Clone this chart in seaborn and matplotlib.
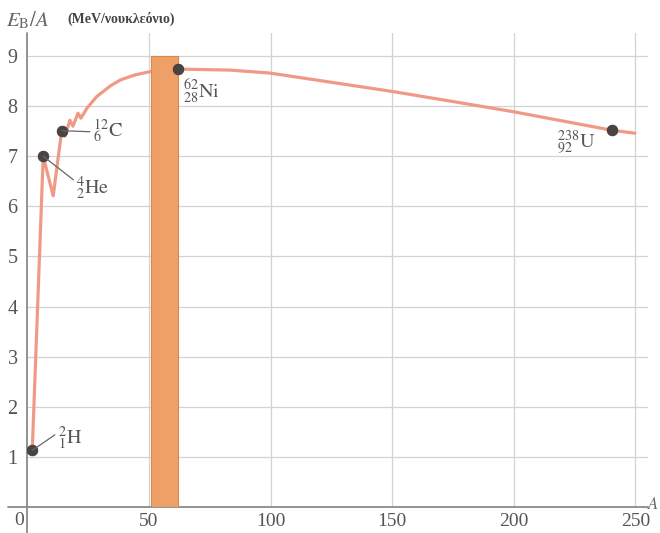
import matplotlib
matplotlib.use("Agg")
import matplotlib.pyplot as plt
import numpy as np
import pandas as pd
import seaborn as sns

# ---------------- data ----------------
mass_number = [2, 6.5, 10.6, 14.1, 15.5, 17.5, 18.75, 20.8, 22.0, 24.5, 28.5,
               34.0, 38.1, 44.0, 50.4, 62.0, 83.3, 99.8, 127.2, 150.5, 176.5,
               199.7, 240.3, 249.8]
binding_energy = [1.13, 7.0, 6.21, 7.51, 7.40, 7.72, 7.60, 7.86, 7.76, 7.96, 8.19,
                  8.40, 8.52, 8.62, 8.69, 8.74, 8.72, 8.66, 8.46, 8.29, 8.08,
                  7.89, 7.52, 7.46]

nuclide_labels = [r'${}^{2}_{1}\mathrm{H}$', r'${}^{4}_{2}\mathrm{He}$',
                  r'${}^{12}_{6}\mathrm{C}$', r'${}^{62}_{28}\mathrm{Ni}$',
                  r'${}^{238}_{92}\mathrm{U}$']
nuclide_A = [2, 6.5, 14.1, 62.0, 240.3]
nuclide_E = [1.13, 7.0, 7.51, 8.74, 7.52]

band_start = 51
band_width = 11
band_height = 9

x_ticks = [50, 100, 150, 200, 250]
y_ticks = [1, 2, 3, 4, 5, 6, 7, 8, 9]

# ---------------- style ----------------
sns.set_theme(style="white")
plt.rcParams['font.family'] = ['Liberation Serif', 'DejaVu Serif']
plt.rcParams['mathtext.fontset'] = 'stix'

W, H = 660, 533
fig = plt.figure(figsize=(W / 100, H / 100), dpi=100)
ax_left, ax_right, ax_bottom, ax_top = 27.4, 648, 507, 33
ax = fig.add_axes([ax_left / W, (H - ax_bottom) / H,
                   (ax_right - ax_left) / W, (ax_bottom - ax_top) / H])
ax.set_xlim(0, 255.2)
ax.set_ylim(0, 9.46)
for s in ax.spines.values():
    s.set_visible(False)

grey_txt = '#555555'
grid_c = '#d2d2d2'

ax.set_xticks(x_ticks)
ax.set_xticklabels([str(t) for t in x_ticks])
ax.set_yticks(y_ticks)
ax.set_yticklabels([str(t) for t in y_ticks])
ax.tick_params(axis='x', length=0, pad=4.5, labelsize=14, labelcolor=grey_txt)
ax.tick_params(axis='y', length=0, pad=7, labelsize=14.5, labelcolor=grey_txt)
ax.grid(True, color=grid_c, linewidth=0.9)
ax.set_axisbelow(True)

# axes lines
ax.plot([0, 0], [-0.53, 9.46], color='#8a8a8a', lw=1.3, clip_on=False, zorder=2)
ax.plot([-8.0, 255.2], [0, 0], color='#8a8a8a', lw=1.3, clip_on=False, zorder=2)

# curve
df = pd.DataFrame({'A': mass_number, 'E': binding_energy})
sns.lineplot(data=df, x='A', y='E', ax=ax, color='#F09A85', lw=2.3,
             estimator=None, sort=False, zorder=3)

# band of most stable nuclei
ax.bar([band_start], [band_height], width=band_width, align='edge',
       color='#EFA066', edgecolor='#D98850', linewidth=0.8, zorder=4)

# highlighted nuclides
pts = pd.DataFrame({'A': nuclide_A, 'E': nuclide_E})
sns.scatterplot(data=pts, x='A', y='E', ax=ax, color='#4a4343', s=60,
                edgecolor='#3a3535', linewidth=0.5, zorder=5)

# leader lines and labels
leader_ends = [(11.3, 1.44), (18.9, 6.53), (25.7, 7.49), None, None]
label_pos = [(12.4, 1.38, 'left'), (19.8, 6.37, 'left'), (27.0, 7.50, 'left'),
             (64.0, 8.28, 'left'), (233.8, 7.27, 'right')]
for lab, a, e, end, (tx, ty, ha) in zip(nuclide_labels, nuclide_A, nuclide_E,
                                         leader_ends, label_pos):
    if end is not None:
        ax.plot([a, end[0]], [e, end[1]], color='#666666', lw=0.9, zorder=5)
    ax.text(tx, ty, lab, ha=ha, va='center', fontsize=14.5, color=grey_txt,
            zorder=6)

ax.set_xlabel('')
ax.set_ylabel('')

# zero label at origin
ax.annotate('0', xy=(0, 0), xytext=(-6, -10), textcoords='offset points',
            ha='center', va='center', fontsize=14, color=grey_txt,
            annotation_clip=False)

# axis titles
fig.text(6 / W, 1 - 20 / H, r'$E_{\mathrm{B}}/A$', fontsize=15, color='#666666',
         ha='left', va='center')
fig.text(67 / W, 1 - 19 / H, '(MeV/νουκλεόνιο)', fontsize=10, color='#444444',
         fontweight='bold', ha='left', va='center',
         family=['Liberation Serif', 'DejaVu Serif'])
fig.text(647 / W, 1 - 505 / H, r'$A$', fontsize=12, color='#666666',
         ha='left', va='center')

fig.savefig('out.png', dpi=100)
